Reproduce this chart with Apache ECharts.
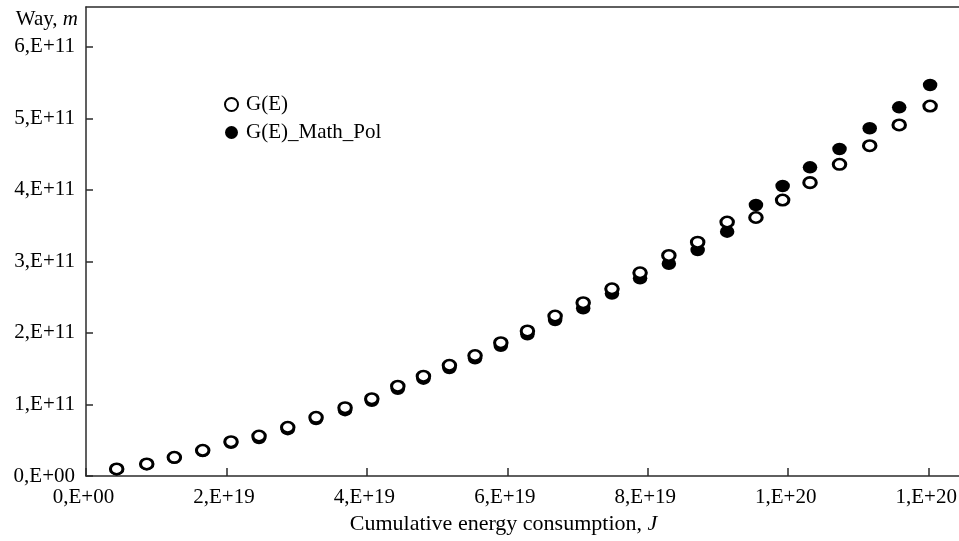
<!DOCTYPE html>
<html>
<head>
<meta charset="utf-8">
<script src="https://cdn.jsdelivr.net/npm/echarts@6/dist/echarts.min.js"></script>
<style>
html,body{margin:0;padding:0;background:#fff;overflow:hidden;}
#chart{width:959px;height:541px;}
</style>
</head>
<body>
<div id="chart"></div>
<script>
// Cumulative energy consumption, J
const energy = [4.37e18, 8.65e18, 1.258e19, 1.662e19, 2.065e19, 2.464e19, 2.873e19, 3.276e19, 3.689e19, 4.07e19,
  4.44e19, 4.805e19, 5.175e19, 5.54e19, 5.907e19, 6.286e19, 6.68e19, 7.08e19, 7.49e19, 7.89e19,
  8.30e19, 8.71e19, 9.13e19, 9.54e19, 9.92e19, 1.031e20, 1.073e20, 1.116e20, 1.158e20, 1.202e20];
// Way, m : G(E)
const wayG = [0.098e11, 0.168e11, 0.261e11, 0.359e11, 0.479e11, 0.559e11, 0.681e11, 0.820e11, 0.955e11, 1.08e11,
  1.255e11, 1.395e11, 1.547e11, 1.684e11, 1.863e11, 2.027e11, 2.236e11, 2.422e11, 2.617e11, 2.84e11,
  3.082e11, 3.268e11, 3.55e11, 3.613e11, 3.857e11, 4.10e11, 4.356e11, 4.616e11, 4.906e11, 5.171e11];
// Way, m : G(E)_Math_Pol
const wayPol = [0.095e11, 0.165e11, 0.255e11, 0.35e11, 0.465e11, 0.53e11, 0.655e11, 0.795e11, 0.92e11, 1.05e11,
  1.22e11, 1.36e11, 1.51e11, 1.645e11, 1.82e11, 1.98e11, 2.18e11, 2.345e11, 2.55e11, 2.763e11,
  2.966e11, 3.159e11, 3.415e11, 3.788e11, 4.053e11, 4.314e11, 4.57e11, 4.86e11, 5.153e11, 5.465e11];

const seriesNames = ['G(E)', 'G(E)_Math_Pol'];
const xTickValues = [0, 2e19, 4e19, 6e19, 8e19, 1e20, 1.2e20];
const xTickLabels = ['0,E+00', '2,E+19', '4,E+19', '6,E+19', '8,E+19', '1,E+20', '1,E+20'];
const yTickValues = [0, 1e11, 2e11, 3e11, 4e11, 5e11, 6e11];
const yTickLabels = ['0,E+00', '1,E+11', '2,E+11', '3,E+11', '4,E+11', '5,E+11', '6,E+11'];

const FONT = 'Liberation Serif';
const ellipse = 'path://M0,50 A50,50 0 1,1 100,50 A50,50 0 1,1 0,50 Z';
const axisCol = '#2b2b2b';

const chart = echarts.init(document.getElementById('chart'), null, {renderer: 'canvas'});
chart.setOption({
  animation: false,
  backgroundColor: '#fff',
  textStyle: {fontFamily: FONT, color: '#000'},
  grid: {left: 86, right: -2, top: 7, bottom: 65, containLabel: false, outerBoundsMode: 'none'},
  legend: {
    orient: 'vertical',
    left: 219, top: 89,
    itemWidth: 15, itemHeight: 13, itemGap: 7,
    data: seriesNames,
    textStyle: {fontFamily: FONT, fontSize: 21, color: '#000', padding: [0, 0, 0, 2]}
  },
  xAxis: [{
    type: 'value', min: 0, max: 1.246e20, interval: 2e19,
    name: 'Cumulative energy consumption, {i|J}',
    nameLocation: 'middle', nameGap: 32,
    nameTextStyle: {fontFamily: FONT, fontSize: 22, color: '#000', padding: [0, 40, 0, 0],
      rich: {i: {fontFamily: FONT, fontSize: 22, fontStyle: 'italic', color: '#000'}}},
    splitLine: {show: false},
    axisLine: {show: true, lineStyle: {color: axisCol, width: 1.5}},
    axisTick: {show: true, inside: true, length: 8, customValues: xTickValues, lineStyle: {color: axisCol, width: 1.5}},
    axisLabel: {customValues: xTickValues, margin: 11, fontFamily: FONT, fontSize: 21, color: '#000',
      padding: [0, 5, 0, 0],
      formatter: v => xTickLabels[xTickValues.indexOf(v)]}
  }, {
    type: 'value', position: 'top', min: 0, max: 1.246e20,
    splitLine: {show: false},
    axisLine: {show: true, lineStyle: {color: axisCol, width: 1.5}},
    axisTick: {show: false}, axisLabel: {show: false}
  }],
  yAxis: {
    type: 'value', min: 0, max: 6.555e11, interval: 1e11,
    name: 'Way, {i|m}', nameLocation: 'end', nameGap: -12,
    nameTextStyle: {fontFamily: FONT, fontSize: 21, color: '#000', align: 'right', verticalAlign: 'middle',
      padding: [0, 8, 0, 0],
      rich: {i: {fontFamily: FONT, fontSize: 21, fontStyle: 'italic', color: '#000'}}},
    splitLine: {show: false},
    axisLine: {show: true, lineStyle: {color: axisCol, width: 1.5}},
    axisTick: {show: true, inside: true, length: 7, customValues: yTickValues, lineStyle: {color: axisCol, width: 1.5}},
    axisLabel: {customValues: yTickValues, margin: 11, fontFamily: FONT, fontSize: 21, color: '#000',
      formatter: v => yTickLabels[yTickValues.indexOf(v)]}
  },
  series: [{
    name: seriesNames[0], type: 'scatter', z: 3,
    symbol: ellipse, symbolSize: [12.5, 10.5],
    itemStyle: {color: '#fff', borderColor: '#000', borderWidth: 2.8, opacity: 1},
    data: energy.map((e, i) => [e, wayG[i]])
  }, {
    name: seriesNames[1], type: 'scatter', z: 2,
    symbol: ellipse, symbolSize: [14.5, 12.5],
    itemStyle: {color: '#000', opacity: 1},
    data: energy.map((e, i) => [e, wayPol[i]])
  }]
});
</script>
</body>
</html>
